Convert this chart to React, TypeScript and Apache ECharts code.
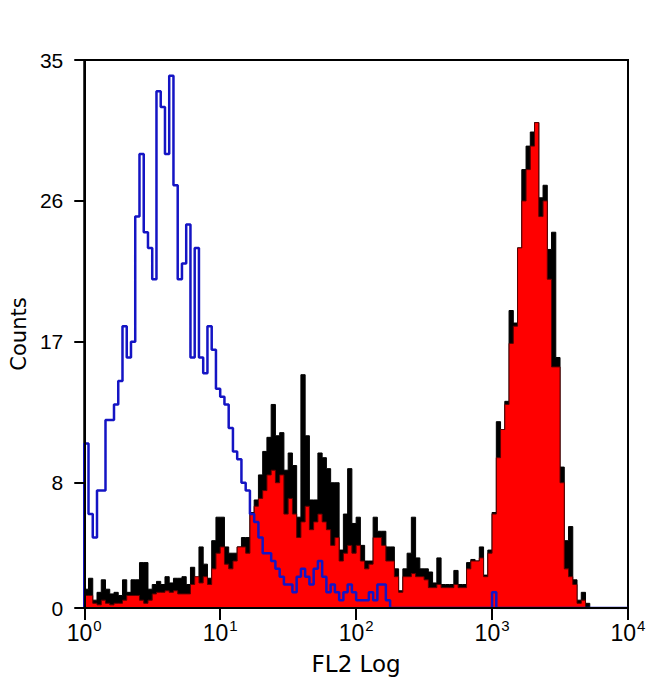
import React, { useEffect, useRef } from "react";
import * as echarts from "echarts";

// Histogram channels: 128 bins spanning 4 decades (10^0 .. 10^4)
const BIN_COUNT = 128;
const DECADES = [0, 1, 2, 3, 4];
const Y_TICKS = [0, 8, 17, 26, 35];

// Isotype control (blue outline)
const BLUE = [
  10.5, 6, 4.5, 7.5, 7.5, 12, 12, 13, 14.5, 18, 16, 17, 25, 29, 24, 23,
  21, 33, 32, 29, 34, 27, 21, 22, 24.5, 16, 23, 16, 15, 18, 16.5, 14,
  13.5, 13, 11.5, 10, 9.5, 8, 7.5, 6, 5.5, 4.5, 3.5, 3.5, 3, 2.5, 2, 1.5,
  1.5, 1, 2, 2.5, 2, 1.5, 2.5, 3, 2, 1, 1.5, 1, 0.5, 1, 1.5, 1,
  0.5, 0.5, 0.5, 1, 0.5, 1.5, 1.5, 0.5, 0, 0, 0, 0, 0, 0, 0, 0,
  0, 0, 0, 0, 0, 0, 0, 0, 0, 0, 0, 0, 0, 0, 0, 0,
  1, 0, 0, 0, 0, 0, 0, 0, 0, 0, 0, 0, 0, 0, 0, 0,
  0, 0, 0, 0, 0, 0, 0, 0, 0, 0, 0, 0, 0, 0, 0, 0,
];

// Stained sample, outer (black fill)
const BLACK = [
  1.2, 1.9, 0.5, 1, 1.8, 1.2, 0.9, 1, 0.8, 1.8, 1, 1.8, 1.8, 2.9, 2.9, 1.2,
  1.5, 1.7, 1.5, 2, 1.6, 1.9, 1.9, 2, 1.5, 2.6, 1.5, 3.9, 2.8, 1.9, 4.3, 5.8,
  5.8, 3.9, 3.5, 3.5, 3.9, 4.5, 4.5, 6.1, 6.9, 8.5, 10, 10.9, 13, 11, 11.2, 8.8,
  9.9, 9.1, 5.8, 14.9, 11, 6.9, 6.9, 9.9, 9.6, 8.9, 8, 8, 3.7, 6, 8.9, 5.4,
  5.8, 4, 3, 3, 5.8, 4.9, 4.9, 3.9, 3.9, 2.5, 1.1, 2.5, 3.5, 5.8, 3.2, 2.5,
  2.5, 2.3, 1.6, 3.2, 1.5, 1.5, 1.5, 2.4, 1.5, 1.5, 2.9, 3.1, 3, 3.9, 2.1, 3.7,
  6.1, 11.9, 11.4, 13.2, 19, 18.2, 23, 28, 29.5, 30.4, 31, 26.2, 27, 22.9, 24, 16,
  9, 4.3, 5.2, 1.8, 0.5, 1, 0.3, 0, 0, 0, 0, 0, 0, 0, 0, 0,
];

// Stained sample, inner (red fill)
const RED = [
  0.8, 0.8, 0.3, 0.2, 0.5, 0.3, 0.2, 0.3, 0.3, 0.5, 0.8, 0.8, 0.8, 0.5, 0.3, 0.5,
  0.9, 1, 1, 1.1, 1, 1.1, 0.9, 0.9, 0.9, 1.5, 2, 1.6, 2, 1.5, 2.5, 3.5,
  3.9, 2.8, 2.5, 3, 3.9, 3.9, 3.5, 6, 6.5, 7, 7.5, 8.5, 8.8, 8, 8.5, 6,
  7, 6, 4.5, 5.5, 6.5, 5, 5.5, 6, 5.5, 5, 4, 4.5, 3, 3.5, 4, 3.5,
  4, 3, 2.5, 2.8, 4.5, 4.5, 4, 3, 3, 2, 1, 2, 2, 2.2, 2, 2,
  1.8, 1.3, 1.3, 1.5, 1.3, 1.3, 1.3, 1.5, 1.3, 1.3, 2.5, 3, 3, 3.2, 2, 3.5,
  6, 9.6, 11.4, 13, 16.9, 18, 23, 26, 28, 29.5, 31, 25, 26, 21, 15.4, 15.4,
  8, 2.5, 2, 1.5, 0.3, 0.5, 0, 0, 0, 0, 0, 0, 0, 0, 0, 0,
];

const SPAN = DECADES[DECADES.length - 1] - DECADES[0];

function toSteps(vals: number[]): number[][] {
  const pts: number[][] = [[0, 0]];
  vals.forEach((v, i) => pts.push([(i * SPAN) / BIN_COUNT, v]));
  pts.push([SPAN, 0]);
  return pts;
}

export default function App() {
  const ref = useRef<HTMLDivElement>(null);

  useEffect(() => {
    if (!ref.current) return;
    const chart = echarts.init(ref.current, undefined, { renderer: "svg" });
    const labelFont = "Liberation Sans, Arial, sans-serif";
    chart.setOption({
      animation: false,
      backgroundColor: "#ffffff",
      grid: {
        left: 82,
        right: 22,
        top: 60,
        bottom: 86,
        show: true,
        borderColor: "#000",
        borderWidth: 2,
        backgroundColor: "transparent",
      },
      xAxis: {
        type: "value",
        min: 0,
        max: 4,
        interval: 1,
        z: 5,
        axisLine: { show: true, onZero: false, lineStyle: { color: "#000", width: 2 } },
        axisTick: { show: true, length: 12, lineStyle: { color: "#000", width: 2 } },
        splitLine: { show: false },
        axisLabel: {
          margin: 10,
          formatter: (v: number) => `{a|10}{b|${v}}`,
          rich: {
            a: { fontSize: 23, fontFamily: labelFont, color: "#000" },
            b: { fontSize: 15, fontFamily: labelFont, color: "#000", padding: [0, 0, 14, 1] },
          },
        },
        name: "FL2 Log",
        nameLocation: "middle",
        nameGap: 44,
        nameTextStyle: { fontFamily: "DejaVu Sans", fontSize: 23, color: "#000" },
      },
      yAxis: {
        type: "value",
        min: 0,
        max: 35,
        z: 5,
        axisLine: { show: true, onZero: false, lineStyle: { color: "#000", width: 2 } },
        axisTick: { show: true, length: 10, customValues: Y_TICKS, lineStyle: { color: "#000", width: 2 } },
        splitLine: { show: false },
        axisLabel: {
          customValues: Y_TICKS,
          margin: 21,
          fontSize: 21,
          fontFamily: labelFont,
          color: "#000",
        },
        name: "Counts",
        nameLocation: "middle",
        nameGap: 52,
        nameTextStyle: { fontFamily: "DejaVu Sans", fontSize: 21, color: "#000" },
      },
      series: [
        {
          name: "Stained outer",
          type: "line",
          step: "end",
          data: toSteps(BLACK),
          symbol: "none",
          silent: true,
          z: 2,
          lineStyle: { color: "#000", width: 1 },
          areaStyle: { color: "#000", opacity: 1 },
        },
        {
          name: "Stained",
          type: "line",
          step: "end",
          data: toSteps(RED),
          symbol: "none",
          silent: true,
          z: 3,
          lineStyle: { color: "#5a0000", width: 1 },
          areaStyle: { color: "#ff0000", opacity: 1 },
        },
        {
          name: "Isotype",
          type: "line",
          step: "end",
          data: toSteps(BLUE),
          symbol: "none",
          silent: true,
          z: 4,
          lineStyle: { color: "#1414c4", width: 2.5 },
        },
      ],
    });
    return () => chart.dispose();
  }, []);

  return (
    <div
      ref={ref}
      style={{ position: "absolute", left: 0, top: 0, width: 650, height: 694, background: "#fff" }}
    />
  );
}
